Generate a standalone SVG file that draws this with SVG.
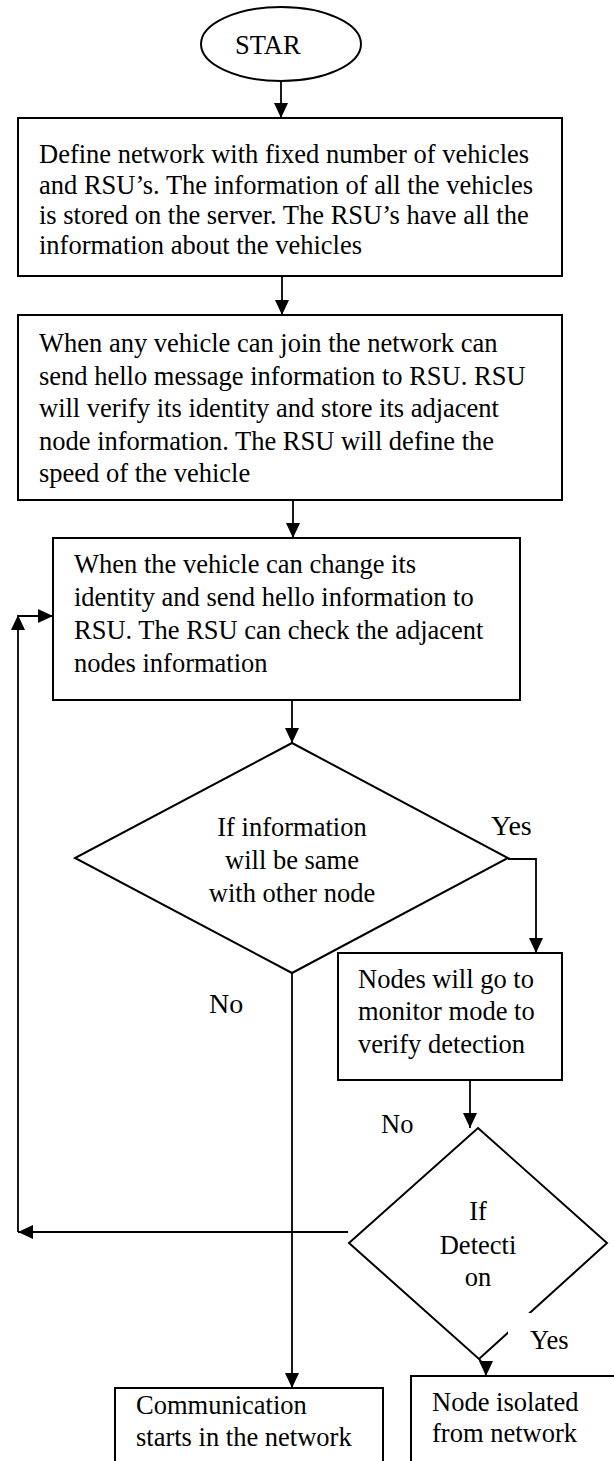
<svg xmlns="http://www.w3.org/2000/svg" width="614" height="1461" viewBox="0 0 614 1461">
  <defs>
    <style>
      .shape { fill: #fff; stroke: #000; stroke-width: 2; }
      .line { fill: none; stroke: #000; stroke-width: 1.8; }
      .txt { font-family: "Liberation Serif", "Times New Roman", serif; font-size: 26.5px; fill: #000; }
      .mid { text-anchor: middle; }
      .lbl { font-family: "Liberation Serif", "Times New Roman", serif; font-size: 28px; fill: #000; }
    </style>
    <marker id="arrow" viewBox="0 0 15 14" refX="15" refY="7" markerWidth="15" markerHeight="14" markerUnits="userSpaceOnUse" orient="auto">
      <path d="M0,0 L15,7 L0,14 z" fill="#000"/>
    </marker>
  </defs>
  <rect width="614" height="1461" fill="#fff"/>

  <g id="connectors">
    <path class="line" d="M281,81 V118" marker-end="url(#arrow)"/>
    <path class="line" d="M282,276 V315" marker-end="url(#arrow)"/>
    <path class="line" d="M293,500 V538" marker-end="url(#arrow)"/>
    <path class="line" d="M292,700 V743" marker-end="url(#arrow)"/>
    <path class="line" d="M508,859 H536 V953" marker-end="url(#arrow)"/>
    <path class="line" d="M470,1080 V1128" marker-end="url(#arrow)"/>
    <path class="line" d="M292,973 V1388" marker-end="url(#arrow)"/>
    <path class="line" d="M348,1232 H18" marker-end="url(#arrow)"/>
    <path class="line" d="M18,1232 V615" marker-end="url(#arrow)"/>
    <path class="line" d="M18,616 H53" marker-end="url(#arrow)"/>
    <path class="line" d="M479,1359 Q486,1366 486,1376" marker-end="url(#arrow)"/>
  </g>

  <g id="start">
    <ellipse class="shape" cx="281" cy="44" rx="80" ry="37"/>
    <text class="txt" x="235" y="54">STAR</text>
  </g>

  <g id="define-network">
    <rect class="shape" x="18" y="118" width="544" height="158"/>
    <text class="txt" x="39" y="163">Define network with fixed number of vehicles</text>
    <text class="txt" x="39" y="194">and RSU’s. The information of all the vehicles</text>
    <text class="txt" x="39" y="224">is stored on the server. The RSU’s have all the</text>
    <text class="txt" x="39" y="254">information about the vehicles</text>
  </g>

  <g id="join-network">
    <rect class="shape" x="18" y="315" width="544" height="185"/>
    <text class="txt" x="39" y="352">When any vehicle can join the network can</text>
    <text class="txt" x="39" y="384.5">send hello message information to RSU. RSU</text>
    <text class="txt" x="39" y="417">will verify its identity and store its adjacent</text>
    <text class="txt" x="39" y="449.5">node information. The RSU will define the</text>
    <text class="txt" x="39" y="482">speed of the vehicle</text>
  </g>

  <g id="change-identity">
    <rect class="shape" x="53" y="538" width="467" height="162"/>
    <text class="txt" x="74" y="573">When the vehicle can change its</text>
    <text class="txt" x="74" y="606">identity and send hello information to</text>
    <text class="txt" x="74" y="639">RSU. The RSU can check the adjacent</text>
    <text class="txt" x="74" y="672">nodes information</text>
  </g>

  <g id="same-info-decision">
    <polygon class="shape" points="292,743 508,858 292,973 75,858"/>
    <text class="txt mid" x="292" y="836">If information</text>
    <text class="txt mid" x="292" y="869">will be same</text>
    <text class="txt mid" x="292" y="902">with other node</text>
    <text class="lbl" x="491" y="835">Yes</text>
    <text class="lbl" x="209" y="1013">No</text>
  </g>

  <g id="monitor-mode">
    <rect class="shape" x="338" y="953" width="224" height="127"/>
    <text class="txt" x="358" y="988">Nodes will go to</text>
    <text class="txt" x="358" y="1020">monitor mode to</text>
    <text class="txt" x="358" y="1053">verify detection</text>
  </g>

  <g id="detection-decision">
    <polygon class="shape" points="478,1128 607,1243 479,1359 349,1243"/>
    <text class="txt mid" x="478" y="1220">If</text>
    <text class="txt mid" x="478" y="1254">Detecti</text>
    <text class="txt mid" x="478" y="1286">on</text>
    <text class="txt" x="381" y="1133">No</text>
    <rect x="508" y="1313" width="66" height="44" fill="#fff"/>
    <text class="txt" x="530" y="1349" font-size="25">Yes</text>
  </g>

  <g id="communication">
    <rect class="shape" x="115" y="1388" width="268" height="100"/>
    <text class="txt" x="136" y="1414">Communication</text>
    <text class="txt" x="136" y="1446">starts in the network</text>
  </g>

  <g id="node-isolated">
    <rect class="shape" x="411" y="1376" width="220" height="100"/>
    <text class="txt" x="432" y="1411">Node isolated</text>
    <text class="txt" x="432" y="1442">from network</text>
  </g>
</svg>
